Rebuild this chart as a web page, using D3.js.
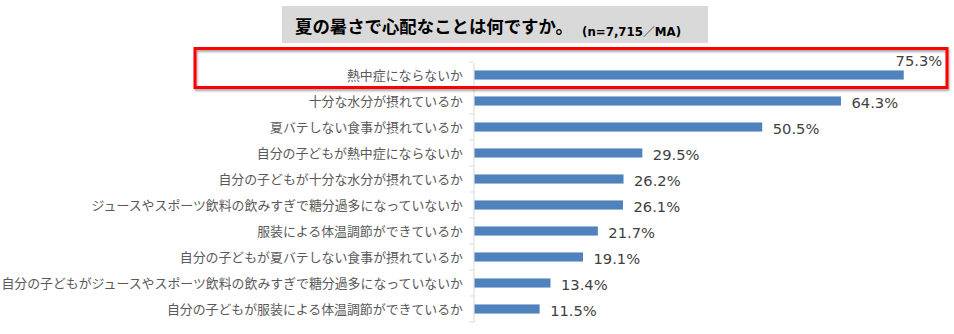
<!DOCTYPE html>
<html>
<head>
<meta charset="utf-8">
<script src="https://cdn.jsdelivr.net/npm/d3@7"></script>
<style>
  html, body { margin: 0; padding: 0; background: #ffffff; }
  svg { display: block; }
</style>
</head>
<body>
<svg id="chart" width="954" height="334"></svg>
<script>
// ---- data ----
const titleMain = "夏の暑さで心配なことは何ですか。";
const titleNote = "(n=7,715／MA)";
const categories = [
  "熱中症にならないか",
  "十分な水分が摂れているか",
  "夏バテしない食事が摂れているか",
  "自分の子どもが熱中症にならないか",
  "自分の子どもが十分な水分が摂れているか",
  "ジュースやスポーツ飲料の飲みすぎで糖分過多になっていないか",
  "服装による体温調節ができているか",
  "自分の子どもが夏バテしない食事が摂れているか",
  "自分の子どもがジュースやスポーツ飲料の飲みすぎで糖分過多になっていないか",
  "自分の子どもが服装による体温調節ができているか"
];
const values = [75.3, 64.3, 50.5, 29.5, 26.2, 26.1, 21.7, 19.1, 13.4, 11.5];
const highlighted = ["熱中症にならないか"];

// ---- drawing ----
const svg = d3.select("#chart");
const jp = "'Noto Sans CJK JP', 'Noto Sans', sans-serif";
const num = "'DejaVu Sans', 'Noto Sans', sans-serif";

const x = d3.scaleLinear().domain([0, 80]).range([474, 474 + 80 * 5.707]);
const y = d3.scaleBand().domain(categories).range([62, 322])
  .paddingInner(0.65).paddingOuter(0.325);

// title box
svg.append("rect")
  .attr("x", 282).attr("y", 6).attr("width", 426).attr("height", 37)
  .attr("fill", "#d9d9d9");
svg.append("text")
  .attr("x", 295).attr("y", 33)
  .attr("font-family", jp).attr("font-weight", "bold").attr("fill", "#000")
  .attr("font-size", "17.4px").text(titleMain);
svg.append("text")
  .attr("x", 582).attr("y", 36)
  .attr("font-family", "'DejaVu Sans', 'Noto Sans CJK JP', sans-serif")
  .attr("font-weight", "bold").attr("fill", "#000")
  .attr("font-size", "11.8px").text(titleNote);

// axis line + boundary ticks
const axis = svg.append("g").attr("transform", `translate(${x(0) - 0.5},0)`);
axis.call(d3.axisLeft(y).tickValues([]).tickSizeOuter(0));
axis.select(".domain").attr("stroke", "#d9d9d9").attr("stroke-width", 1);
const boundaries = d3.range(categories.length + 1).map(i => y.range()[0] + i * y.step());
axis.selectAll("line.b").data(boundaries).join("line")
  .attr("class", "b")
  .attr("x1", -4).attr("x2", 0)
  .attr("y1", d => d).attr("y2", d => d)
  .attr("stroke", "#d9d9d9");

// category labels
svg.append("g").selectAll("text").data(categories).join("text")
  .attr("x", 463)
  .attr("y", d => y(d) + y.bandwidth() / 2)
  .attr("dy", "0.36em")
  .attr("text-anchor", "end")
  .attr("font-family", jp).attr("font-size", "12.9px")
  .attr("fill", "#595959")
  .text(d => d);

// bars
svg.append("g").selectAll("rect").data(values).join("rect")
  .attr("x", x(0) + 0.5)
  .attr("y", (d, i) => y(categories[i]))
  .attr("width", d => x(d) - x(0) - 0.5)
  .attr("height", y.bandwidth())
  .attr("fill", "#4f81bd");

// value labels
svg.append("g").selectAll("text").data(values).join("text")
  .attr("x", (d, i) => i === 0 ? x(d) + 38.5 : x(d) + 10.5)
  .attr("y", (d, i) => i === 0 ? y(categories[i]) - 4.5 : y(categories[i]) + y.bandwidth() / 2 + 6.5)
  .attr("text-anchor", (d, i) => i === 0 ? "end" : "start")
  .attr("font-family", num).attr("font-size", "14.7px")
  .attr("fill", "#404040")
  .text(d => d3.format(".1f")(d) + "%");

// highlight box
const defs = svg.append("defs");
const f = defs.append("filter").attr("id", "sh").attr("x", "-5%").attr("y", "-30%")
  .attr("width", "110%").attr("height", "160%");
f.append("feDropShadow").attr("dx", 1).attr("dy", 2).attr("stdDeviation", 1.2)
  .attr("flood-color", "#000").attr("flood-opacity", 0.35);
highlighted.forEach(c => {
  svg.append("rect")
    .attr("x", 195).attr("y", y(c) - y.step() * 0.325 - 13.5)
    .attr("width", 752).attr("height", 39)
    .attr("fill", "none").attr("stroke", "#ff0000").attr("stroke-width", 3)
    .attr("filter", "url(#sh)");
});
</script>
</body>
</html>
